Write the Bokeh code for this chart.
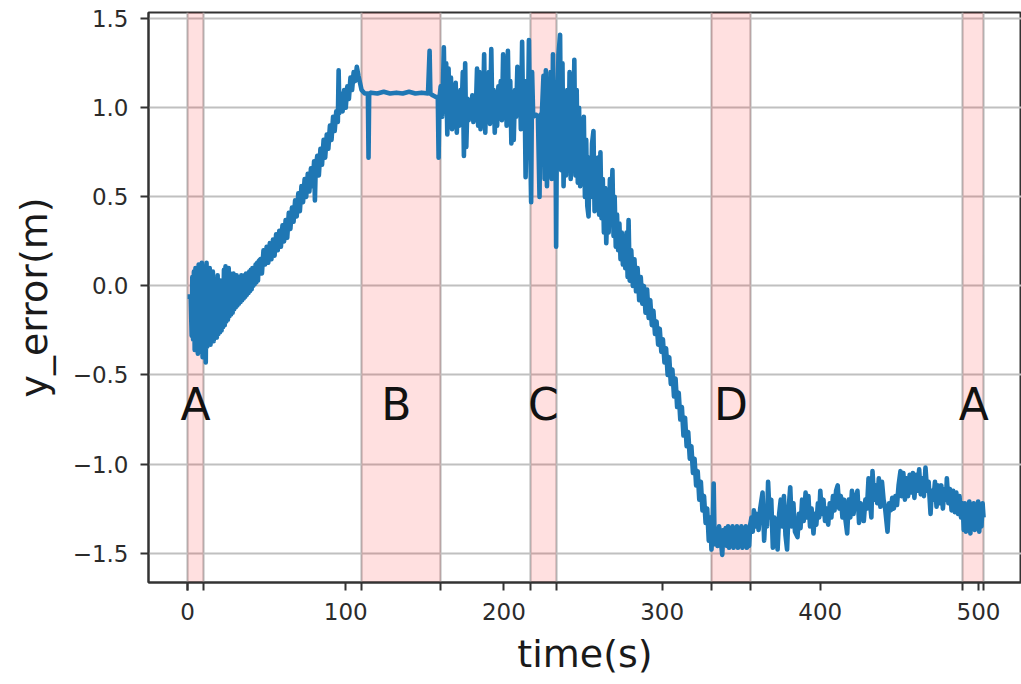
from bokeh.plotting import figure
from bokeh.models import BoxAnnotation, FixedTicker, Range1d
from bokeh.core.properties import value
from bokeh.embed import file_html
from bokeh.resources import INLINE

# ---- data: (time s, y_error m) ----
rise = [(0,-0.06),(1,-0.06),(2,-0.06),(2.6,-0.28),(3,0.05),(3.5,-0.30),(4,0.08),(4.5,-0.36),(5,0.10),(5.5,-0.33),
        (6,0.06),(6.5,-0.38),(7,0.12),(7.5,-0.35),(8,0.02),(8.5,-0.37),(9,0.13),(9.5,-0.40),(10,0.11),(10.5,-0.36),
        (11,0.05),(11.5,-0.43),(12,0.13),(12.5,-0.34),(13,0.04),(13.5,-0.32),(14,0.10),(14.5,-0.33),(15,-0.02),(15.5,-0.30),
        (16,0.08),(16.5,-0.31),(17,-0.05),(17.5,-0.28),(18,0.04),(18.5,-0.29),(19,0.06),(19.5,-0.27),(20,-0.03),(20.5,-0.26),
        (21,0.03),(21.5,-0.25),(22,-0.02),(22.5,-0.23),(23,0.09),(23.5,-0.22),(24,0.11),(24.5,-0.20),(25,0.05),(25.5,-0.19),
        (26,0.10),(26.5,-0.17),(27,0.07),(27.5,-0.16),(28,0.02),(28.5,-0.15),(29,0.07),(29.5,-0.13),(30,0.04),(30.5,-0.12),
        (31,0.06),(31.5,-0.11),(32,0.05),(32.5,-0.10),(33,0.03),(33.5,-0.09),(34,0.06),(34.5,-0.08),(35,0.05),(35.5,-0.07),
        (36,0.06),(36.5,-0.06),(37,0.07),(37.5,-0.05),(38,0.06),(38.5,-0.04),(39,0.08),(39.5,-0.03),(40,0.09),(40.5,-0.02),
        (41,0.10),(41.5,0.00),(42,0.10),(42.5,0.01),(43,0.12),(43.5,0.02),(44,0.13),(44.5,0.03),(45,0.14)]

ramp = [(46,0.15),(47,0.07),(48,0.20),(49,0.12),(50,0.22),(51,0.13),(52,0.24),(53,0.15),(54,0.26),(55,0.17),
        (56,0.29),(57,0.20),(58,0.31),(59,0.22),(60,0.34),(61,0.25),(62,0.37),(63,0.27),(64,0.41),(65,0.32),
        (66,0.44),(67,0.36),(68,0.48),(69,0.39),(70,0.52),(71,0.42),(72,0.56),(73,0.47),(74,0.60),(75,0.50),
        (76,0.63),(77,0.53),(78,0.66),(79,0.56),(80,0.70),(80.5,0.48),(81,0.66),(82,0.73),(83,0.62),(84,0.77),
        (85,0.68),(86,0.82),(87,0.72),(88,0.85),(89,0.77),(90,0.90),(91,0.82),(92,0.95),(93,0.87),(94,0.98),
        (95,0.92),(95.5,1.21),(96,0.97),(97,1.08),(98,0.98),(99,1.10),(100,1.00),(101,1.12),(102,1.05),(103,1.17),
        (104,1.10),(105,1.20),(106,1.15),(107,1.23),(108,1.18),(109,1.14),(110,1.10),(111,1.09),(112,1.08),(113,1.08),
        (114,1.08),(114.4,0.72),(114.8,1.08)]

plateau = [(116,1.085),(120,1.08),(124,1.09),(128,1.08),(132,1.085),(136,1.08),(140,1.09),(144,1.08),(148,1.085),
           (152,1.08),(153,1.32),(153.5,1.08),(155,1.07),(157,1.06),(158.2,1.06),(158.7,0.72),(159.2,1.05),(160,1.12),(161,0.95)]

noisy_top = [(162,1.34),(162.7,0.98),(163.5,1.25),(164.2,0.85),(165,1.22),(165.7,0.92),(166.5,1.17),(167.2,0.88),
             (168,1.12),(168.7,0.95),(169.5,1.14),(170.2,0.86),(171,1.08),(171.7,0.90),(172.5,1.10),(173.2,0.97),
             (174,1.20),(174.7,0.73),(175.5,1.25),(176.2,0.78),(177,1.05),(177.7,0.93),(178.5,1.04),(179.2,0.95),
             (180,1.07),(180.7,0.92),(181.5,1.02),(182.2,0.98),(183,1.22),(183.7,0.90),(184.5,1.20),(185.2,0.88),
             (186,1.16),(186.7,0.96),(187.5,1.30),(188.2,0.86),(189,1.15),(189.7,0.95),(190.5,1.20),(191.2,0.91),
             (192,1.33),(192.7,0.95),(193.5,1.10),(194.2,0.86),(195,1.08),(195.7,0.90),(196.5,1.12),(197.2,0.94),
             (198,1.15),(198.7,0.93),(199.5,1.30),(200.2,0.97),(201,1.20),(201.7,0.90),(202.5,1.32),(203.2,0.96),
             (204,1.15),(204.7,0.80),(205.5,1.00),(206.2,0.82),(207,1.10),(207.7,0.95),(208.5,1.23),(209.2,0.98),
             (210,1.18),(210.7,0.88),(211.5,1.37),(212.2,0.90),(213,1.15),(213.7,0.61),(214.5,1.10),(215.2,0.95),
             (215.8,1.38),(216.5,0.88),(217.2,0.47),(217.8,1.20),(218.5,0.95),(219.5,0.96),(220.5,0.96),(221.5,0.95),
             (222.5,0.50),(223,0.96),(224,0.97),(225,1.18),(225.7,0.60),(226.5,1.21),(227.2,0.56),(228,1.10),
             (228.7,0.70),(229.5,1.20),(230.2,0.60),(231,1.30),(231.7,0.80),(232.5,1.05),(233,0.22),(233.5,0.90),
             (234.5,1.30),(235.5,1.41),(236.2,0.65),(237,1.25),(237.7,0.56),(238.5,1.00),(239.2,0.62),(240,1.10),
             (240.7,0.68),(241.5,1.20),(242.2,0.60),(243,1.00),(243.7,0.70),(244.5,1.27),(245.2,0.62),(246,1.10),
             (246.7,0.58),(247.5,1.00),(248.2,0.56)]

descent = [(249,0.85),(249.7,0.60),(250.5,0.95),(251.2,0.50),(252,0.82),(252.7,0.45),(253.5,0.39),(254.2,0.72),
           (255,0.50),(255.7,0.80),(256.6,0.87),(257.3,0.42),(258,0.70),(258.7,0.45),(259.5,0.72),(260.2,0.40),
           (261,0.75),(261.7,0.38),(262.5,0.60),(263.2,0.30),(264,0.55),(264.7,0.24),(265.5,0.50),(266.2,0.30),
           (267,0.60),(267.7,0.35),(268.6,0.65),(269.3,0.28),(270,0.50),(270.7,0.22),(271.5,0.40),(272.2,0.20),
           (273,0.35),(273.7,0.15),(274.5,0.30),(275.2,0.12),(276,0.25),(276.7,0.10),(277.5,0.30),(278.2,0.05),
           (278.8,0.37),(279.5,0.03),(280.5,0.20),(281.5,0.00),(282.5,0.15),(283.5,-0.03),(284.5,0.10),(285.5,-0.08),
           (286.5,0.05),(287.5,-0.10),(288.5,0.00),(289.5,-0.15),(290.5,-0.02),(291.5,-0.18),(292.5,-0.08),(293.5,-0.22),
           (294.5,-0.14),(295.5,-0.27),(296.5,-0.20),(297.5,-0.33),(298.5,-0.24),(299.5,-0.37),(300.5,-0.30),(301.5,-0.43),
           (302.5,-0.35),(303.5,-0.50),(304.5,-0.40),(305.5,-0.55),(306.5,-0.47),(307.5,-0.62),(308.5,-0.52),(309.5,-0.68),
           (310.5,-0.60),(311.5,-0.75),(312.5,-0.68),(313.5,-0.84),(314.5,-0.74),(315.5,-0.90),(316.5,-0.82),(317.5,-0.97),
           (318.5,-0.90),(319.5,-1.05),(320.5,-0.97),(321.5,-1.12),(322.5,-1.04),(323.5,-1.20),(324.5,-1.10),(325.5,-1.26),
           (326.5,-1.18),(327.5,-1.33),(328.5,-1.25),(329.5,-1.43),(330.5,-1.30)]

bottom = [(331.2,-1.48),(332,-1.32),(332.6,-1.11),(333.2,-1.45),(334,-1.38),(335,-1.46),(336,-1.35),(337,-1.42),
          (338,-1.51),(338.8,-1.37),(339.5,-1.44),(340.2,-1.36),(341,-1.46),(341.7,-1.35),(342.4,-1.47),(343.1,-1.36),
          (343.8,-1.46),(344.5,-1.35),(345.2,-1.47),(345.9,-1.36),(346.6,-1.46),(347.3,-1.35),(348,-1.47),(348.7,-1.36),
          (349.4,-1.46),(350.1,-1.35),(350.8,-1.47),(351.5,-1.36),(352.2,-1.46),(352.9,-1.35),(353.6,-1.47),(354.3,-1.36),
          (355,-1.46),(355.7,-1.34)]

settle = [(356.5,-1.30),(357.3,-1.38),(358,-1.26),(359,-1.35),(360,-1.28),(361,-1.37),(362,-1.25),(363.5,-1.16),
          (364.5,-1.43),(365.5,-1.25),(366.3,-1.35),(367,-1.10),(368,-1.30),(369,-1.20),(370,-1.47),(371,-1.30),
          (372,-1.38),(373,-1.48),(374,-1.28),(375,-1.20),(376,-1.35),(377,-1.18),(378,-1.40),(379,-1.48),
          (380,-1.25),(381,-1.13),(382,-1.35),(383,-1.22),(384,-1.38),(385.6,-1.41),(386.5,-1.28),(387.5,-1.36),
          (388.5,-1.20),(389.5,-1.32),(390.7,-1.16),(391.5,-1.30),(392.5,-1.18),(393.5,-1.35),(394.5,-1.25),(395.7,-1.39),
          (396.5,-1.28),(397.5,-1.34),(398.5,-1.22),(399.3,-1.30),(400,-1.15),(401,-1.28),(402,-1.20),(403,-1.32),
          (404,-1.25),(405,-1.34),(406,-1.22),(407,-1.30),(408,-1.18),(409,-1.26),(410,-1.15),(411,-1.12),
          (412,-1.25),(413,-1.18),(414,-1.30),(415,-1.20),(416,-1.32),(417,-1.39),(418,-1.20),(419,-1.30),
          (420,-1.15),(421,-1.28),(422,-1.20),(423.5,-1.15),(424.5,-1.33),(425.5,-1.22),(426.5,-1.26),(427.5,-1.32),
          (428.5,-1.20),(429.5,-1.25),(430.5,-1.08),(431.5,-1.22),(432.3,-1.30),(433,-1.04),(434,-1.20),(435,-1.12),
          (436,-1.22),(437,-1.08),(438,-1.24),(439,-1.10),(440,-1.20),(441,-1.25),(442.5,-1.38),(443.5,-1.22),
          (444.5,-1.26),(445.5,-1.19),(446.5,-1.25),(447.5,-1.18),(448.5,-1.23),(449.5,-1.12),(450.7,-1.04),(451.5,-1.18),
          (452.5,-1.05),(453.5,-1.20),(454.5,-1.08),(455.5,-1.18),(456.5,-1.06),(457.5,-1.16),(458.5,-1.05),(459.5,-1.19),
          (460.5,-1.06),(461.5,-1.15),(462.5,-1.03),(463.5,-1.17),(464.5,-1.08),(465.5,-1.18),(466.5,-1.02),(467.5,-1.15),
          (468.5,-1.10),(469.7,-1.28),(470.5,-1.15),(471.5,-1.20),(472.5,-1.10),(473.5,-1.24),(474.5,-1.12),(475.5,-1.22),
          (476.5,-1.12),(477.5,-1.25),(478.5,-1.14),(479.5,-1.20),(480,-1.08),(481,-1.22),(482,-1.14),(483,-1.26),
          (484,-1.15),(485,-1.27),(486,-1.16),(487,-1.28),(488,-1.18),(489,-1.30),(490,-1.22)]

final = [(490.7,-1.37),(491.4,-1.22),(492.1,-1.38),(492.8,-1.23),(493.5,-1.36),(494.2,-1.21),(494.9,-1.39),
         (495.6,-1.24),(496.3,-1.35),(497,-1.22),(497.7,-1.37),(498.4,-1.23),(499.1,-1.36),(499.8,-1.21),
         (500.5,-1.38),(501.2,-1.24),(501.9,-1.35),(502.6,-1.22),(503.2,-1.30)]

# phase spans and their labels
span_start = [0, 110, 217, 331, 490]
span_end = [10, 160, 233, 356, 503]
span_labels = ["A", "B", "C", "D", "A"]
label_time = [5, 132, 225, 343.5, 497]

x_ticks = [0, 100, 200, 300, 400, 500]
y_ticks = [-1.5, -1.0, -0.5, 0.0, 0.5, 1.0, 1.5]
y_tick_labels = ["\u22121.5", "\u22121.0", "\u22120.5", "0.0", "0.5", "1.0", "1.5"]

# ---- build ----
series = rise + ramp + plateau + noisy_top + descent + bottom + settle + final
time_s = [p[0] for p in series]
y_error = [p[1] for p in series]

FONT = "DejaVu Sans"
INK = "#2b2b2b"
GRID = "#c0c0c0"
LABEL_LEVEL = -0.665

p = figure(width=1021, height=684, output_backend="svg", toolbar_location=None,
           x_range=Range1d(-24.7, 527.2), y_range=Range1d(-1.665, 1.535),
           min_border_left=148, min_border_right=0, min_border_top=12, min_border_bottom=102)
p.background_fill_color = "white"
p.border_fill_color = "white"
p.outline_line_color = "#333333"
p.outline_line_width = 2

for s, e in zip(span_start, span_end):
    p.add_layout(BoxAnnotation(left=s, right=e, fill_color="red", fill_alpha=0.12,
                               line_color=None, level="underlay"))

p.xaxis.ticker = FixedTicker(ticks=x_ticks, minor_ticks=span_start + span_end)
p.yaxis.ticker = FixedTicker(ticks=y_ticks, minor_ticks=[])
p.xgrid.grid_line_color = None
p.xgrid.minor_grid_line_color = "#b4b4b4"
p.xgrid.minor_grid_line_width = 2
p.ygrid.grid_line_color = GRID
p.ygrid.grid_line_width = 2

p.line(time_s, y_error, line_color="#1f77b4", line_width=4.6, line_join="round")

p.text(x=label_time, y=[LABEL_LEVEL] * len(label_time), text=span_labels,
       text_font=value(FONT), text_font_size="44px", text_color="#111111",
       text_align="center", text_baseline="middle")

for ax in (p.xaxis[0], p.yaxis[0]):
    ax.axis_line_color = "#333333"
    ax.axis_line_width = 2
    ax.major_tick_line_color = "#333333"
    ax.major_tick_line_width = 2
    ax.major_tick_out = 8
    ax.major_tick_in = 0
    ax.major_label_text_font = FONT
    ax.major_label_text_font_size = "23px"
    ax.major_label_text_color = INK
    ax.major_label_standoff = 12
    ax.axis_label_text_font = FONT
    ax.axis_label_text_font_size = "38px"
    ax.axis_label_text_font_style = "normal"
    ax.axis_label_text_color = "#1a1a1a"

p.xaxis.minor_tick_line_color = "#333333"
p.xaxis.minor_tick_line_width = 2
p.xaxis.minor_tick_out = 8
p.xaxis.minor_tick_in = 0
p.yaxis.minor_tick_line_color = None

p.xaxis.axis_label = "time(s)"
p.yaxis.axis_label = "y_error(m)"
p.xaxis.axis_label_standoff = 9
p.yaxis.axis_label_standoff = 14
p.yaxis.major_label_overrides = dict(zip(y_ticks, y_tick_labels))

open("out.html", "w").write(file_html(p, INLINE))
